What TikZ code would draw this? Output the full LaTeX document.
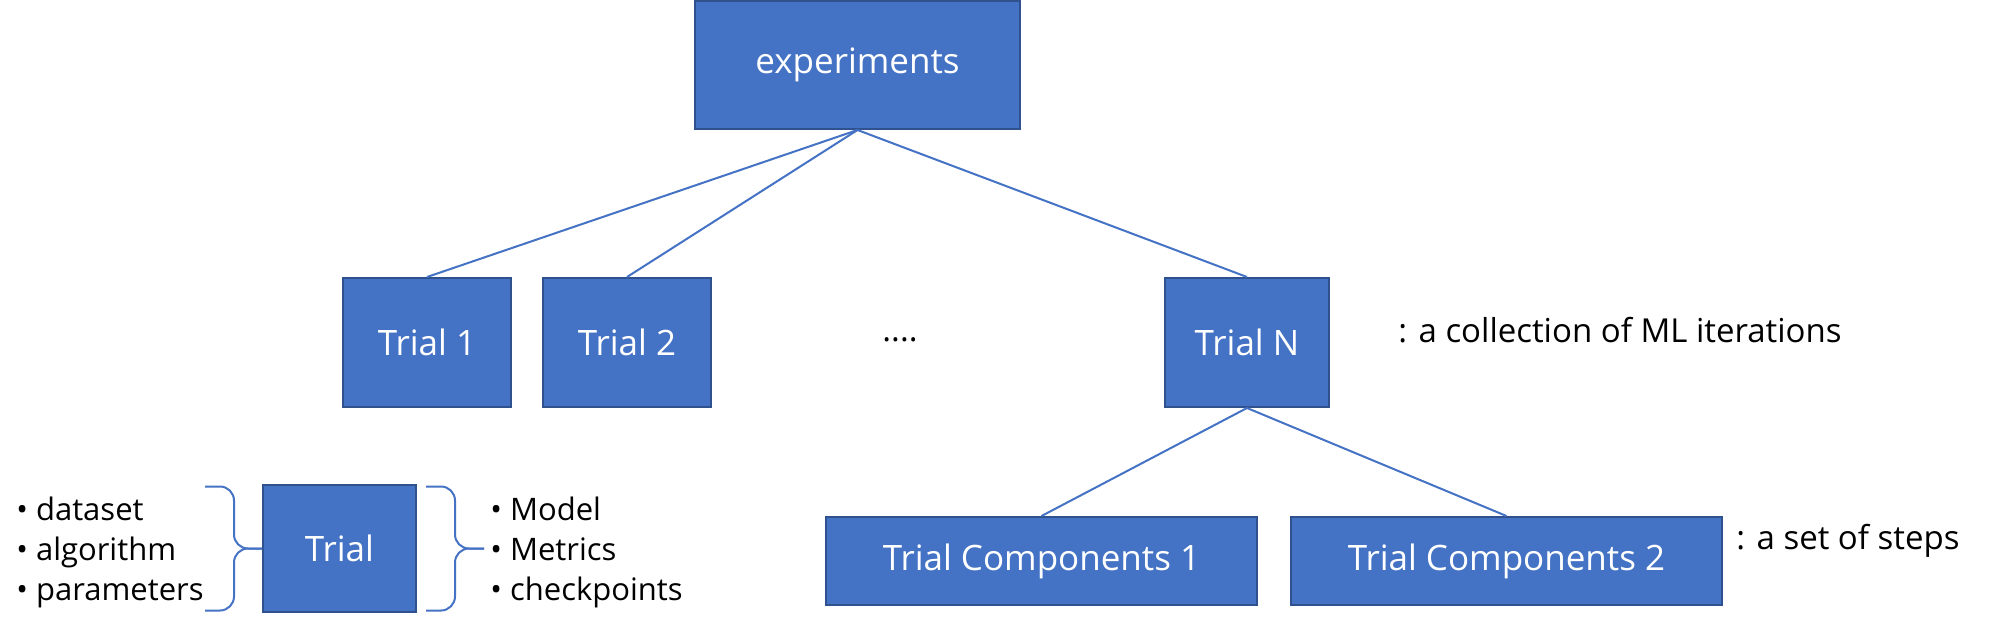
\documentclass[tikz,border=0pt]{standalone}
\usepackage{fontspec}
\setmainfont{Open Sans}
\usetikzlibrary{positioning,calc}
\definecolor{boxblue}{HTML}{4472C4}
\definecolor{boxedge}{HTML}{2F528F}

\begin{document}
\begin{tikzpicture}[
  x=0.5pt, y=-0.5pt, node distance=15pt,
  box/.style={draw=boxedge, line width=1pt, fill=boxblue, text=white,
              font=\fontsize{17.5}{20}\selectfont, inner sep=0pt,
              minimum width=84pt, minimum height=64.5pt},
  wide/.style={box, minimum width=215.5pt, minimum height=44pt},
  note/.style={font=\fontsize{16.5}{20}\selectfont, inner sep=0pt},
  items/.style={font=\fontsize{15.5}{20}\selectfont, align=left, inner sep=0pt},
  link/.style={draw=boxblue, line width=1pt},
  curly/.style={draw=boxblue, line width=1pt, rounded corners=7pt}]
\useasboundingbox (0,0) rectangle (1999,627);
% top level
\node[box, minimum width=162.5pt, minimum height=64pt](exp) at (857.5,65) {experiments};
% trials
\node[box](t1) at (427,342.5) {Trial 1};
\node[box, right=of t1](t2) {Trial 2};
\node[note](dots) at (900,340) {....};
\node[box, minimum width=82pt](tN) at (1247,342.5) {Trial N};
\node[note, right=34pt of tN, yshift=6pt](iter) {: a collection of ML iterations};
% components
\node[wide](tc1) at (1041.5,561) {Trial Components 1};
\node[wide, right=16pt of tc1](tc2) {Trial Components 2};
\node[note, right=6.5pt of tc2, yshift=10pt](steps) {: a set of steps};
\draw[link](exp.south)--(t1.north);
\draw[link](exp.south)--(t2.north);
\draw[link](exp.south)--(tN.north);
\draw[link](tN.south)--(tc1.north);
\draw[link](tN.south)--(tc2.north);
% single trial with inputs / outputs
\node[box, minimum width=76.5pt, minimum height=63.5pt](trial) at (339.5,548.5) {Trial};
\coordinate (ltip) at (trial.west);
\coordinate (rtip) at ($(trial.east)+(67,0)$);
\draw[curly] ($(ltip)+(-57,-62)$) -| ($(ltip)+(-28,0)$) -- (ltip);
\draw[curly] ($(ltip)+(-57,62)$) -| ($(ltip)+(-28,0)$) -- (ltip);
\draw[curly] ($(trial.east)+(9,-62)$) -| ($(trial.east)+(38,0)$) -- (rtip);
\draw[curly] ($(trial.east)+(9,62)$) -| ($(trial.east)+(38,0)$) -- (rtip);
\node[items, anchor=east](inputs) at ($(ltip)+(-58,4)$) {• dataset\\• algorithm\\• parameters};
\node[items, anchor=west](outputs) at ($(rtip)+(6,4)$) {• Model\\• Metrics\\• checkpoints};
\end{tikzpicture}
\end{document}
